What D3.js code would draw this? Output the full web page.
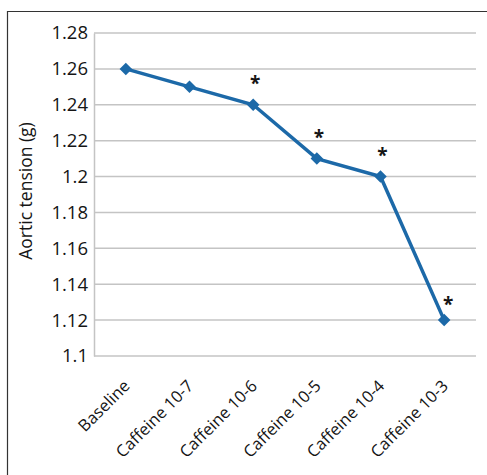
<!DOCTYPE html>
<html>
<head>
<meta charset="utf-8">
<script src="https://cdn.jsdelivr.net/npm/d3@7"></script>
<style>
  body { margin: 0; background: #fff; }
  svg text { font-family: "Open Sans", "DejaVu Sans", sans-serif; fill: #151515; }
</style>
</head>
<body>
<div id="chart"></div>
<script>
const F_WIDTH = 487;
const F_HEIGHT = 475;
const MARGINS = {left: 94, right: 11, top: 33, bottom: 119};

const VIS_WIDTH = F_WIDTH - MARGINS.left - MARGINS.right;
const VIS_HEIGHT = F_HEIGHT - MARGINS.top - MARGINS.bottom;

// data
const CATEGORIES = ["Baseline", "Caffeine 10-7", "Caffeine 10-6", "Caffeine 10-5", "Caffeine 10-4", "Caffeine 10-3"];
const TENSION = [1.26, 1.25, 1.24, 1.21, 1.20, 1.12];
const SIGNIFICANT = [false, false, true, true, true, true];
const Y_TICKS = [1.1, 1.12, 1.14, 1.16, 1.18, 1.2, 1.22, 1.24, 1.26, 1.28];

const LINE_COLOR = "#1c69a8";

const FRAME = d3.select("#chart")
  .append("svg")
    .attr("width", F_WIDTH)
    .attr("height", F_HEIGHT);

// outer border (cropped at right and bottom)
FRAME.append("path")
  .attr("d", "M7.5," + F_HEIGHT + "V11.5H" + F_WIDTH)
  .attr("fill", "none")
  .attr("stroke", "#333")
  .attr("stroke-width", 1.2);

const X_SCALE = d3.scaleBand()
  .domain(CATEGORIES)
  .range([0, VIS_WIDTH]);

const Y_SCALE = d3.scaleLinear()
  .domain([1.1, 1.28])
  .range([VIS_HEIGHT, 0]);

const G = FRAME.append("g")
  .attr("transform", "translate(" + MARGINS.left + "," + MARGINS.top + ")");

// horizontal gridlines
G.append("g")
  .selectAll("line")
  .data(Y_TICKS)
  .enter()
  .append("line")
    .attr("x1", 0)
    .attr("x2", VIS_WIDTH)
    .attr("y1", (d) => Y_SCALE(d))
    .attr("y2", (d) => Y_SCALE(d))
    .attr("stroke", "#c4c4c4")
    .attr("stroke-width", 1.5);

// y axis
const yAxis = G.append("g")
  .call(d3.axisLeft(Y_SCALE).tickValues(Y_TICKS).tickSize(0).tickPadding(6)
    .tickFormat((d) => String(+d.toFixed(2))));
yAxis.select(".domain").attr("stroke", "#c4c4c4").attr("stroke-width", 1.5);
yAxis.selectAll("text").style("font-size", "18.5px");

// x axis labels
const xAxis = G.append("g")
  .attr("transform", "translate(0," + VIS_HEIGHT + ")")
  .call(d3.axisBottom(X_SCALE).tickSize(0));
xAxis.select(".domain").remove();
xAxis.selectAll("text")
  .style("font-size", "16.5px")
  .attr("text-anchor", "end")
  .attr("y", 0)
  .attr("dy", 0)
  .attr("transform", "translate(5,31) rotate(-45)");

// y axis title
FRAME.append("text")
  .attr("transform", "translate(32," + 191 + ") rotate(-90)")
  .attr("text-anchor", "middle")
  .style("font-size", "17.5px")
  .text("Aortic tension (g)");

const cx = (i) => X_SCALE(CATEGORIES[i]) + X_SCALE.bandwidth() / 2;

// line
G.append("path")
  .datum(TENSION)
  .attr("fill", "none")
  .attr("stroke", LINE_COLOR)
  .attr("stroke-width", 3.5)
  .attr("d", d3.line().x((d, i) => cx(i)).y((d) => Y_SCALE(d)));

// diamond markers
G.append("g")
  .selectAll("path")
  .data(TENSION)
  .enter()
  .append("path")
    .attr("d", d3.symbol().type(d3.symbolDiamond2).size(100))
    .attr("transform", (d, i) => "translate(" + cx(i) + "," + Y_SCALE(d) + ")")
    .attr("fill", LINE_COLOR);

// significance stars
G.append("g")
  .selectAll("text")
  .data(TENSION.map((v, i) => ({v: v, i: i})).filter((d) => SIGNIFICANT[d.i]))
  .enter()
  .append("text")
    .attr("x", (d) => cx(d.i) + (d.i === 5 ? 4 : 2))
    .attr("y", (d) => Y_SCALE(d.v) - (d.i === 5 ? 9 : 15))
    .attr("text-anchor", "middle")
    .style("font-size", "19px")
    .style("font-weight", "bold")
    .text("*");
</script>
</body>
</html>
